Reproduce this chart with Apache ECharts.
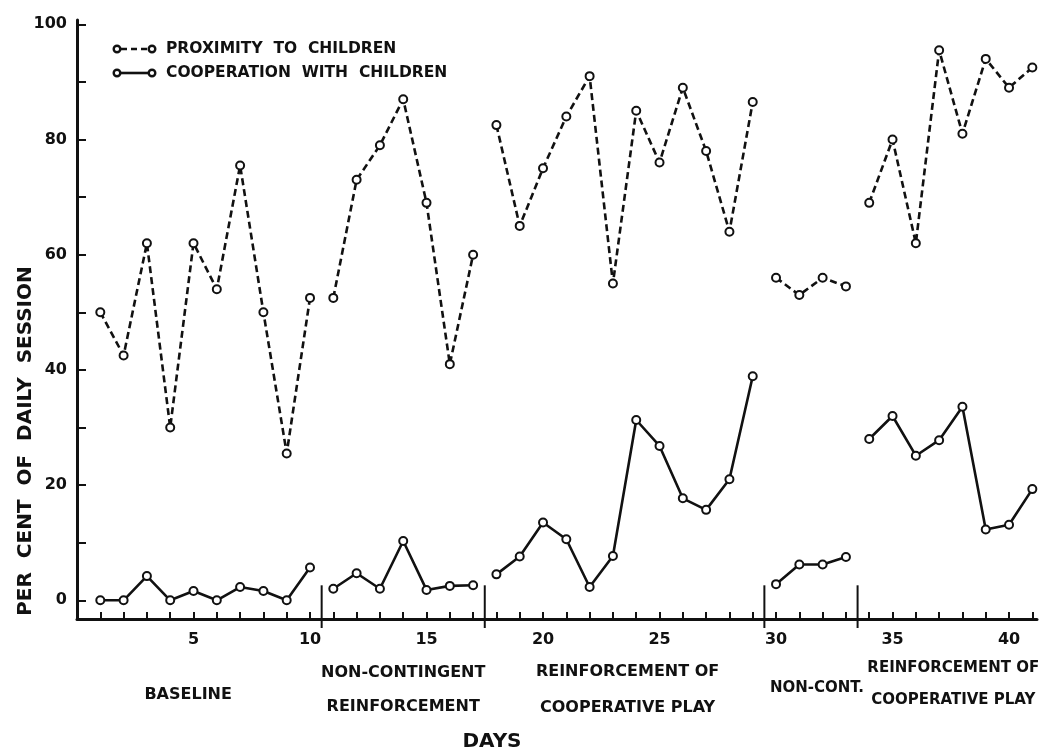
<!DOCTYPE html>
<html>
<head>
<meta charset="utf-8">
<script src="https://cdn.jsdelivr.net/npm/echarts@6/dist/echarts.min.js"></script>
<style>
  html, body { margin: 0; padding: 0; background: #fff; }
  #chart { width: 1049px; height: 753px; }
</style>
</head>
<body>
<div id="chart"></div>
<script>
// Session days and the two measures (per cent of daily session)
const days = [1, 2, 3, 4, 5, 6, 7, 8, 9, 10,
              11, 12, 13, 14, 15, 16, 17,
              18, 19, 20, 21, 22, 23, 24, 25, 26, 27, 28, 29,
              30, 31, 32, 33,
              34, 35, 36, 37, 38, 39, 40, 41];
const proximity = [50, 42.5, 62, 30, 62, 54, 75.5, 50, 25.5, 52.5,
                   52.5, 73, 79, 87, 69, 41, 60,
                   82.5, 65, 75, 84, 91, 55, 85, 76, 89, 78, 64, 86.5,
                   56, 53, 56, 54.5,
                   69, 80, 62, 95.5, 81, 94, 89, 92.5];
const cooperation = [0, 0, 4.2, 0, 1.6, 0, 2.3, 1.6, 0, 5.7,
                     2, 4.7, 2, 10.3, 1.8, 2.5, 2.6,
                     4.5, 7.6, 13.5, 10.6, 2.3, 7.7, 31.3, 26.8, 17.7, 15.7, 21, 38.9,
                     2.8, 6.2, 6.2, 7.5,
                     28, 32, 25.1, 27.8, 33.6, 12.3, 13.1, 19.3];

// Experimental phases
const phaseFirstDays = [1, 11, 18, 30, 34];
const phaseLastDays = [10, 17, 29, 33, 41];
const phaseLabels = [
  ['BASELINE'],
  ['NON-CONTINGENT', 'REINFORCEMENT'],
  ['REINFORCEMENT OF', 'COOPERATIVE PLAY'],
  ['NON-CONT.'],
  ['REINFORCEMENT OF', 'COOPERATIVE PLAY']
];

// Axis ticks and labels
const xTickLabels = [5, 10, 15, 20, 25, 30, 35, 40];
const yTickLabels = [0, 20, 40, 60, 80, 100];
const yTickMarks = [0, 10, 20, 30, 40, 50, 60, 70, 80, 90, 100];

const legendNames = ['PROXIMITY  TO  CHILDREN', 'COOPERATION  WITH  CHILDREN'];

// ---- drawing ----
const INK = '#111';
const FONT = "'DejaVu Sans', 'Liberation Sans', sans-serif";
const Y_MIN = -3.25, Y_MAX = 100.75;
const X_MIN = 0, X_MAX = 41.2;
const DIVIDER_TOP = 2.6;

const chart = echarts.init(document.getElementById('chart'), null, { renderer: 'canvas' });

function phaseSeries(values, dashed) {
  return phaseFirstDays.map((first, p) => {
    const last = phaseLastDays[p];
    const pts = [];
    days.forEach((d, i) => { if (d >= first && d <= last) pts.push([d, values[i]]); });
    return {
      type: 'line',
      data: pts,
      symbol: 'emptyCircle',
      symbolSize: 8,
      showAllSymbol: true,
      lineStyle: { color: INK, width: 2.6, type: dashed ? [7, 4] : 'solid' },
      itemStyle: { color: INK, borderWidth: 2.4 },
      z: 3,
      silent: true,
      animation: false
    };
  });
}

// dividers sit halfway between the last day of one phase and the first of the next
const dividerDays = phaseLastDays.slice(0, -1).map((last, p) => (last + phaseFirstDays[p + 1]) / 2);

const dividerSeries = {
  type: 'custom',
  clip: false,
  silent: true,
  animation: false,
  z: 2,
  data: dividerDays.map(d => [d, DIVIDER_TOP]),
  renderItem(params, api) {
    const top = api.coord([api.value(0), api.value(1)]);
    const base = api.coord([api.value(0), Y_MIN]);
    return {
      type: 'line',
      shape: { x1: top[0], y1: top[1], x2: top[0], y2: base[1] + 9 },
      style: { stroke: INK, lineWidth: 2 }
    };
  }
};

const tickFont = { color: INK, fontFamily: FONT, fontWeight: 'bold', fontSize: 16 };

chart.setOption({
  backgroundColor: '#fff',
  animation: false,
  grid: { left: 77, right: 12, top: 20, bottom: 134, containLabel: false },
  xAxis: {
    type: 'value',
    min: X_MIN,
    max: X_MAX,
    splitLine: { show: false },
    axisLine: { onZero: false, lineStyle: { color: INK, width: 3 } },
    axisTick: { inside: true, length: 7, customValues: days, lineStyle: { color: INK, width: 2 } },
    axisLabel: Object.assign({ customValues: xTickLabels, margin: 13 }, tickFont)
  },
  yAxis: {
    type: 'value',
    min: Y_MIN,
    max: Y_MAX,
    splitLine: { show: false },
    axisLine: { onZero: false, lineStyle: { color: INK, width: 3 } },
    axisTick: { inside: true, length: 9, customValues: yTickMarks, lineStyle: { color: INK, width: 2 } },
    axisLabel: Object.assign({ customValues: yTickLabels, margin: 10 }, tickFont)
  },
  series: [].concat(phaseSeries(proximity, true), phaseSeries(cooperation, false), [dividerSeries])
});

// ---- legend, phase names and axis titles ----
const gfx = [];
const legendRows = [49, 73];
legendRows.forEach((y, i) => {
  gfx.push({
    type: 'line',
    shape: { x1: 121, y1: y, x2: 148, y2: y },
    style: { stroke: INK, lineWidth: 2.6, lineDash: i === 0 ? [6, 4] : null }
  });
  [117, 152].forEach(cx => gfx.push({
    type: 'circle',
    shape: { cx: cx, cy: y, r: 3.3 },
    style: { fill: '#fff', stroke: INK, lineWidth: 2.4 }
  }));
  gfx.push({
    type: 'text',
    x: 166, y: y,
    style: { text: legendNames[i], fill: INK, font: 'bold 15.5px ' + FONT, textAlign: 'left', textVerticalAlign: 'middle' }
  });
});

// phase names under the axis, centred on each phase
const labelNudge = [-17, 0, 3, 6, 6];
const labelRows = [[695], [673, 707], [672, 708], [688], [668, 700]];
const labelSize = [16, 16, 16, 15, 15];
phaseLabels.forEach((lines, p) => {
  const mid = (phaseFirstDays[p] - 0.5 + Math.min(phaseLastDays[p] + 0.5, X_MAX)) / 2;
  const cx = chart.convertToPixel({ xAxisIndex: 0 }, mid) + labelNudge[p];
  lines.forEach((t, k) => gfx.push({
    type: 'text',
    x: cx, y: labelRows[p][k],
    style: { text: t, fill: INK, font: 'bold ' + labelSize[p] + 'px ' + FONT, textAlign: 'center', textVerticalAlign: 'middle' }
  }));
});

gfx.push({
  type: 'text',
  x: 492, y: 742,
  style: { text: 'DAYS', fill: INK, font: 'bold 20px ' + FONT, textAlign: 'center', textVerticalAlign: 'middle' }
});
gfx.push({
  type: 'text',
  x: 26, y: 441,
  rotation: Math.PI / 2,
  style: { text: 'PER  CENT  OF  DAILY  SESSION', fill: INK, font: 'bold 20px ' + FONT, textAlign: 'center', textVerticalAlign: 'middle' }
});

chart.setOption({ graphic: gfx });
</script>
</body>
</html>
